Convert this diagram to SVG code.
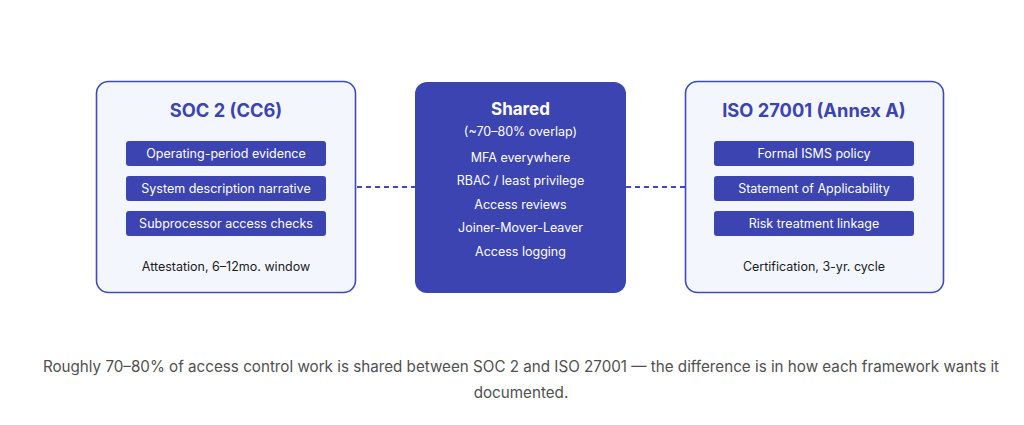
<svg xmlns="http://www.w3.org/2000/svg" width="1024" height="425" viewBox="0 0 1024 425">
<style>
text{font-family:Inter,"Noto Sans","Liberation Sans",sans-serif;text-anchor:middle}
.side{fill:#f4f6fe;stroke:#3f49b8;stroke-width:1.6}
.core{fill:#3b44b0}
.pill{fill:#3b44b0}
.title{font-size:18.3px;font-weight:700;fill:#3b44b0}
.ptxt{font-size:12.5px;fill:#fff}
.cap{font-size:12.5px;fill:#1a1a1a}
.ctxt{font-size:12.5px;fill:#fff}
.conn{stroke:#3f49b8;stroke-width:1.8;stroke-dasharray:5 4;fill:none}
.foot{font-size:15.2px;fill:#505050}
</style>
<rect width="1024" height="425" fill="#fff"/>
<g id="connectors">
<line class="conn" x1="357" y1="187" x2="415" y2="187"/>
<line class="conn" x1="626" y1="187" x2="685" y2="187"/>
</g>
<g id="soc2">
<rect class="side" x="96.5" y="81.5" width="259" height="211" rx="12"/>
<text class="title" x="226" y="117">SOC 2 (CC6)</text>
<rect class="pill" x="126" y="141" width="200" height="25" rx="3"/>
<text class="ptxt" x="226" y="158">Operating-period evidence</text>
<rect class="pill" x="126" y="176" width="200" height="25" rx="3"/>
<text class="ptxt" x="226" y="193">System description narrative</text>
<rect class="pill" x="126" y="211" width="200" height="25" rx="3"/>
<text class="ptxt" x="226" y="228">Subprocessor access checks</text>
<text class="cap" x="226" y="271">Attestation, 6–12mo. window</text>
</g>
<g id="shared">
<rect class="core" x="415" y="82" width="211" height="211" rx="12"/>
<text x="520.5" y="115" style="font-size:17px;font-weight:700;fill:#fff">Shared</text>
<text class="ctxt" x="520.5" y="136">(~70–80% overlap)</text>
<text class="ctxt" x="520.5" y="162">MFA everywhere</text>
<text class="ctxt" x="520.5" y="185">RBAC / least privilege</text>
<text class="ctxt" x="520.5" y="209">Access reviews</text>
<text class="ctxt" x="520.5" y="232">Joiner-Mover-Leaver</text>
<text class="ctxt" x="520.5" y="256">Access logging</text>
</g>
<g id="iso27001">
<rect class="side" x="685.5" y="81.5" width="258" height="211" rx="12"/>
<text class="title" x="814" y="117">ISO 27001 (Annex A)</text>
<rect class="pill" x="714" y="141" width="200" height="25" rx="3"/>
<text class="ptxt" x="814" y="158">Formal ISMS policy</text>
<rect class="pill" x="714" y="176" width="200" height="25" rx="3"/>
<text class="ptxt" x="814" y="193">Statement of Applicability</text>
<rect class="pill" x="714" y="211" width="200" height="25" rx="3"/>
<text class="ptxt" x="814" y="228">Risk treatment linkage</text>
<text class="cap" x="814" y="271">Certification, 3-yr. cycle</text>
</g>
<g id="footer">
<text class="foot" x="521" y="372">Roughly 70–80% of access control work is shared between SOC 2 and ISO 27001 — the difference is in how each framework wants it</text>
<text class="foot" x="521" y="398">documented.</text>
</g>
</svg>
